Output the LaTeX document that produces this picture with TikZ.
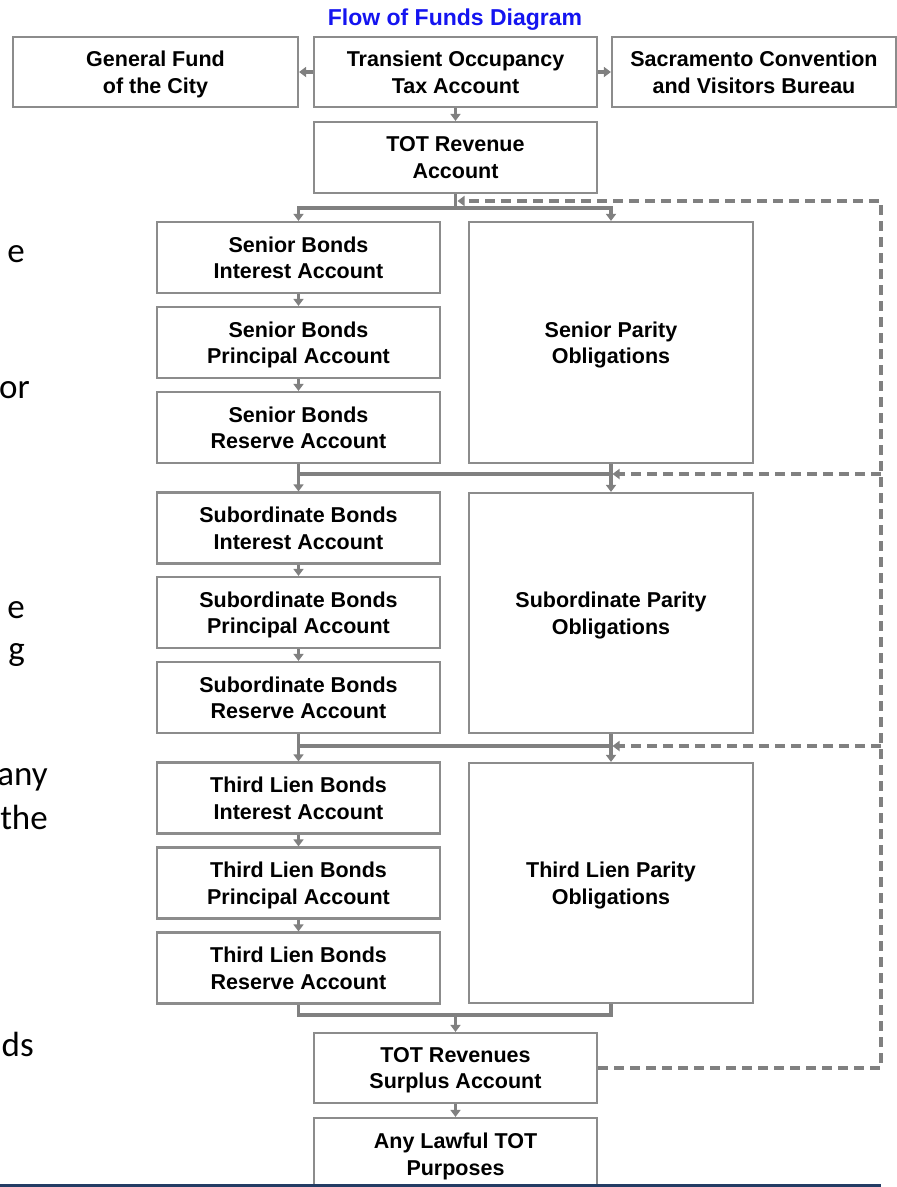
\documentclass[tikz,border=0pt]{standalone}
\usepackage{fontspec}
\newfontfamily\bx{Liberation Sans}[WordSpace=0.55]
\newfontfamily\ttl{Liberation Sans}
\newfontfamily\carlito{Carlito}
\usetikzlibrary{arrows.meta}
\definecolor{boxgray}{RGB}{140,140,140}
\definecolor{linegray}{RGB}{128,128,128}
\definecolor{ttlblue}{RGB}{20,20,240}
\definecolor{navy}{RGB}{35,60,100}
\begin{document}
\begin{tikzpicture}[x=1pt,y=-1pt,
  box/.style={draw=boxgray,line width=2.2pt,fill=white,align=center,inner sep=0pt,text depth=0pt,
    minimum width=283pt,minimum height=71pt,font=\bx\bfseries\fontsize{21.5}{26.5}\selectfont},
  tall/.style={box,minimum width=284pt,minimum height=241pt},
  conn/.style={draw=linegray,line width=3.4pt},
  tip/.style={-{Triangle[width=10pt,length=7pt]}},
  arr/.style={conn,tip},
  dashline/.style={draw=linegray,line width=3.4pt,dash pattern=on 10pt off 6pt},
  frag/.style={anchor=base east,inner sep=0pt,font=\carlito\fontsize{35}{42}\selectfont}]
\clip (0,0) rectangle (897,1187);
\fill[white] (0,0) rectangle (897,1187);

% title
\node[anchor=base,inner sep=0pt,text=ttlblue,font=\ttl\bfseries\fontsize{23}{28}\selectfont] (title) at (455,25) {Flow of Funds Diagram};

% left text fragments
\node[frag] (f1) at (25,262) {e};
\node[frag] (f2) at (30,398) {or};
\node[frag] (f3) at (25,618) {e};
\node[frag] (f4) at (25,660) {g};
\node[frag] (f5) at (48,785) {any};
\node[frag] (f6) at (48,829) {the};
\node[frag] (f7) at (34,1056) {ds};

% top row
\node[box,minimum width=285pt,minimum height=70pt] (gf) at (155.5,72) {General Fund\\of the City};
\node[box,minimum height=70pt] (tot) at (455.5,72) {Transient Occupancy\\Tax Account};
\node[box,minimum width=284pt,minimum height=70pt] (scvb) at (754,72) {Sacramento Convention\\and Visitors Bureau};
\node[box] (rev) at (455.5,157.5) {TOT Revenue\\Account};

% senior
\node[box] (si) at (298.5,257.5) {Senior Bonds\\Interest Account};
\node[box] (sp) at (298.5,342.5) {Senior Bonds\\Principal Account};
\node[box] (sr) at (298.5,427.5) {Senior Bonds\\Reserve Account};
\node[tall] (spar) at (611,342.5) {Senior Parity\\Obligations};

% subordinate
\node[box] (bi) at (298.5,528) {Subordinate Bonds\\Interest Account};
\node[box] (bp) at (298.5,612.5) {Subordinate Bonds\\Principal Account};
\node[box] (br) at (298.5,697.5) {Subordinate Bonds\\Reserve Account};
\node[tall,minimum height=240pt] (bpar) at (611,613) {Subordinate Parity\\Obligations};

% third lien
\node[box] (ti) at (298.5,798) {Third Lien Bonds\\Interest Account};
\node[box] (tp) at (298.5,883) {Third Lien Bonds\\Principal Account};
\node[box] (tr) at (298.5,968) {Third Lien Bonds\\Reserve Account};
\node[tall,minimum height=240pt] (tpar) at (611,883) {Third Lien Parity\\Obligations};

% bottom
\node[box,minimum height=70pt] (sur) at (455.5,1068) {TOT Revenues\\Surplus Account};
\node[box,minimum height=72pt] (law) at (455.5,1154) {Any Lawful TOT\\Purposes};

% coordinates
\coordinate (j0) at (455.5,208);
\coordinate (j1) at (455.5,474);
\coordinate (j2) at (455.5,746);
\coordinate (j3) at (455.5,1015);
\coordinate (d0) at (457.5,201);
\coordinate (d1) at (612.5,474);
\coordinate (d2) at (612.5,746);
\coordinate (c0) at (881,201);

% top arrows
\draw[arr] (tot) -- (gf);
\draw[arr] (tot) -- (scvb);
\draw[arr] (tot) -- (rev);

% top junction
\draw[conn] (rev.south) -- (j0);
\draw[arr] (j0) -| (si.north);
\draw[arr] (j0) -| (spar.north);

% column arrows
\draw[arr] (si) -- (sp);
\draw[arr] (sp) -- (sr);
\draw[arr] (bi) -- (bp);
\draw[arr] (bp) -- (br);
\draw[arr] (ti) -- (tp);
\draw[arr] (tp) -- (tr);

% senior -> subordinate junction
\draw[arr] (sr.south) -- (bi.north);
\draw[arr] (spar.south) -- (bpar.north);
\draw[conn] (sr.south |- j1) -- (spar.south |- j1);

% subordinate -> third lien junction
\draw[arr] (br.south) -- (ti.north);
\draw[arr] (bpar.south) -- (tpar.north);
\draw[conn] (br.south |- j2) -- (bpar.south |- j2);

% third lien -> surplus
\draw[conn] (tr.south) |- (tpar.south |- j3) -- (tpar.south);
\draw[arr] (j3) -- (sur.north);
\draw[arr] (sur) -- (law);

% dashed returns
\draw[dashline,tip] (sur.east) -| (c0) -- (d0);
\draw[dashline,tip] (c0 |- d1) -- (d1);
\draw[dashline,tip] (c0 |- d2) -- (d2);

% bottom rule
\draw[navy,line width=3pt] (0,1185.5) -- (881,1185.5);
\end{tikzpicture}
\end{document}
